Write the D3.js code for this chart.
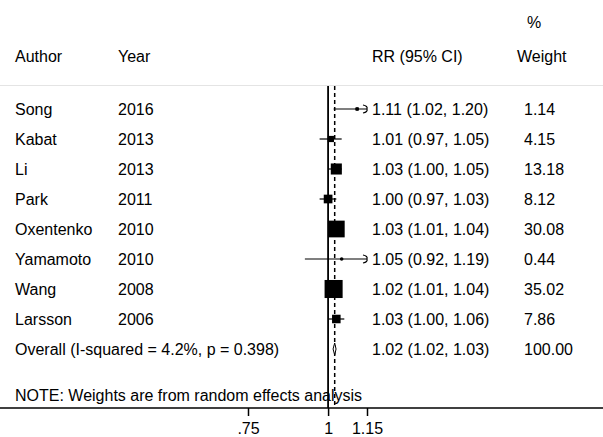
<!DOCTYPE html>
<html>
<head>
<meta charset="utf-8">
<script src="https://cdn.jsdelivr.net/npm/d3@7"></script>
<style>
  body { margin: 0; background: #fff; }
  text { font-family: "Liberation Sans", Arial, sans-serif; font-size: 16px; fill: #000; }
</style>
</head>
<body>
<script>
// study data
const authors = ["Song", "Kabat", "Li", "Park", "Oxentenko", "Yamamoto", "Wang", "Larsson"];
const years = ["2016", "2013", "2013", "2011", "2010", "2010", "2008", "2006"];
const rr = [1.11, 1.01, 1.03, 1.00, 1.03, 1.05, 1.02, 1.03];
const lower = [1.02, 0.97, 1.00, 0.97, 1.01, 0.92, 1.01, 1.00];
const upper = [1.20, 1.05, 1.05, 1.03, 1.04, 1.19, 1.04, 1.06];
const weights = [1.14, 4.15, 13.18, 8.12, 30.08, 0.44, 35.02, 7.86];

// pooled estimate (printed as 1.02 (1.02, 1.03))
const overallLabel = "Overall  (I-squared = 4.2%, p = 0.398)";
const overallRR = 1.024, overallLo = 1.018, overallHi = 1.029, overallWeight = 100.00;

const tickValues = [0.75, 1, 1.15];
const tickLabels = [".75", "1", "1.15"];

const W = 603, H = 437;

const svg = d3.select("body").append("svg")
  .attr("width", W)
  .attr("height", H);

const x = d3.scaleLog()
  .domain([0.75, 1.15])
  .range([248, 367]);

const y = d3.scalePoint()
  .domain(d3.range(authors.length + 1))
  .range([109, 349]);

const col = {author: 15, year: 118, est: 372, weight: 524};
const fmt = d3.format(".2f");

// header
svg.append("text").attr("x", 527).attr("y", 22).attr("dy", ".35em").text("%");
const header = [["Author", col.author], ["Year", col.year], ["RR (95% CI)", col.est], ["Weight", 517]];
svg.selectAll("text.head").data(header).join("text")
   .attr("class", "head")
   .attr("x", d => d[1]).attr("y", 56).attr("dy", ".35em")
   .text(d => d[0]);

svg.append("line")
   .attr("x1", 0).attr("x2", W).attr("y1", 85.5).attr("y2", 85.5)
   .attr("stroke", "#e4e4e4");

// reference lines: null effect and pooled estimate
svg.append("line")
   .attr("x1", x(1)).attr("x2", x(1)).attr("y1", 86).attr("y2", 408)
   .attr("stroke", "#000").attr("stroke-width", 1.8);
svg.append("line")
   .attr("x1", x(overallRR)).attr("x2", x(overallRR)).attr("y1", 86).attr("y2", 408)
   .attr("stroke", "#000").attr("stroke-width", 1.5)
   .attr("stroke-dasharray", "4,3");

const rows = authors.map((a, i) => ({
  author: a, year: years[i], rr: rr[i], lo: lower[i], hi: upper[i], w: weights[i], i
}));

const g = svg.selectAll("g.row").data(rows).join("g").attr("class", "row");

g.append("text").attr("x", col.author).attr("y", d => y(d.i)).attr("dy", ".35em").text(d => d.author);
g.append("text").attr("x", col.year).attr("y", d => y(d.i)).attr("dy", ".35em").text(d => d.year);
g.append("text").attr("x", col.est).attr("y", d => y(d.i)).attr("dy", ".35em")
   .text(d => `${fmt(d.rr)} (${fmt(d.lo)}, ${fmt(d.hi)})`);
g.append("text").attr("x", col.weight).attr("y", d => y(d.i)).attr("dy", ".35em").text(d => fmt(d.w));

const xMax = x.domain()[1];

// confidence intervals, clipped at the axis end with an arrow
g.append("line")
   .attr("x1", d => x(d.lo)).attr("x2", d => x(Math.min(d.hi, xMax)))
   .attr("y1", d => y(d.i)).attr("y2", d => y(d.i))
   .attr("stroke", "#000").attr("stroke-width", 1.2);
g.filter(d => d.hi > xMax).append("path")
   .attr("d", d => {
     const ax = x(xMax), ay = y(d.i);
     return `M${ax - 4},${ay - 4} Q${ax + 1},${ay - 3} ${ax},${ay} Q${ax + 1},${ay + 3} ${ax - 4},${ay + 4}`;
   })
   .attr("fill", "none").attr("stroke", "#000").attr("stroke-width", 1.2);

// weight boxes
const side = d => 3.05 * Math.sqrt(d.w);
g.append("rect")
   .attr("x", d => x(d.rr) - side(d) / 2).attr("y", d => y(d.i) - side(d) / 2)
   .attr("width", side).attr("height", side)
   .attr("fill", "#000");
g.append("circle")
   .attr("cx", d => x(d.rr)).attr("cy", d => y(d.i)).attr("r", 1.8)
   .attr("fill", "#000");

// overall row
const oy = y(authors.length);
svg.append("text").attr("x", col.author).attr("y", oy).attr("dy", ".35em").text(overallLabel);
svg.append("text").attr("x", col.est).attr("y", oy).attr("dy", ".35em")
   .text(`${fmt(overallRR)} (${fmt(overallLo)}, ${fmt(overallHi)})`);
svg.append("text").attr("x", col.weight).attr("y", oy).attr("dy", ".35em").text(fmt(overallWeight));
svg.append("path")
   .attr("d", `M${x(overallLo)},${oy} L${x(overallRR)},${oy - 6} L${x(overallHi)},${oy} L${x(overallRR)},${oy + 6} Z`)
   .attr("fill", "#fff").attr("stroke", "#000").attr("stroke-width", 1);

svg.append("text").attr("x", col.author).attr("y", 395).attr("dy", ".35em")
   .text("NOTE: Weights are from random effects analysis");

// x axis
const axis = svg.append("g")
  .attr("transform", "translate(0,408)")
  .call(d3.axisBottom(x)
    .tickValues(tickValues)
    .tickFormat((d, i) => tickLabels[i])
    .tickSize(8)
    .tickSizeOuter(0));
axis.select(".domain").remove();
axis.selectAll(".tick line").attr("stroke", "#000").attr("stroke-width", 1.5);
axis.selectAll(".tick text")
    .attr("font-size", 16)
    .attr("font-family", "Liberation Sans, Arial, sans-serif")
    .attr("y", 15);
svg.append("line")
   .attr("x1", 0).attr("x2", W).attr("y1", 408).attr("y2", 408)
   .attr("stroke", "#000").attr("stroke-width", 1.5);
</script>
</body>
</html>
